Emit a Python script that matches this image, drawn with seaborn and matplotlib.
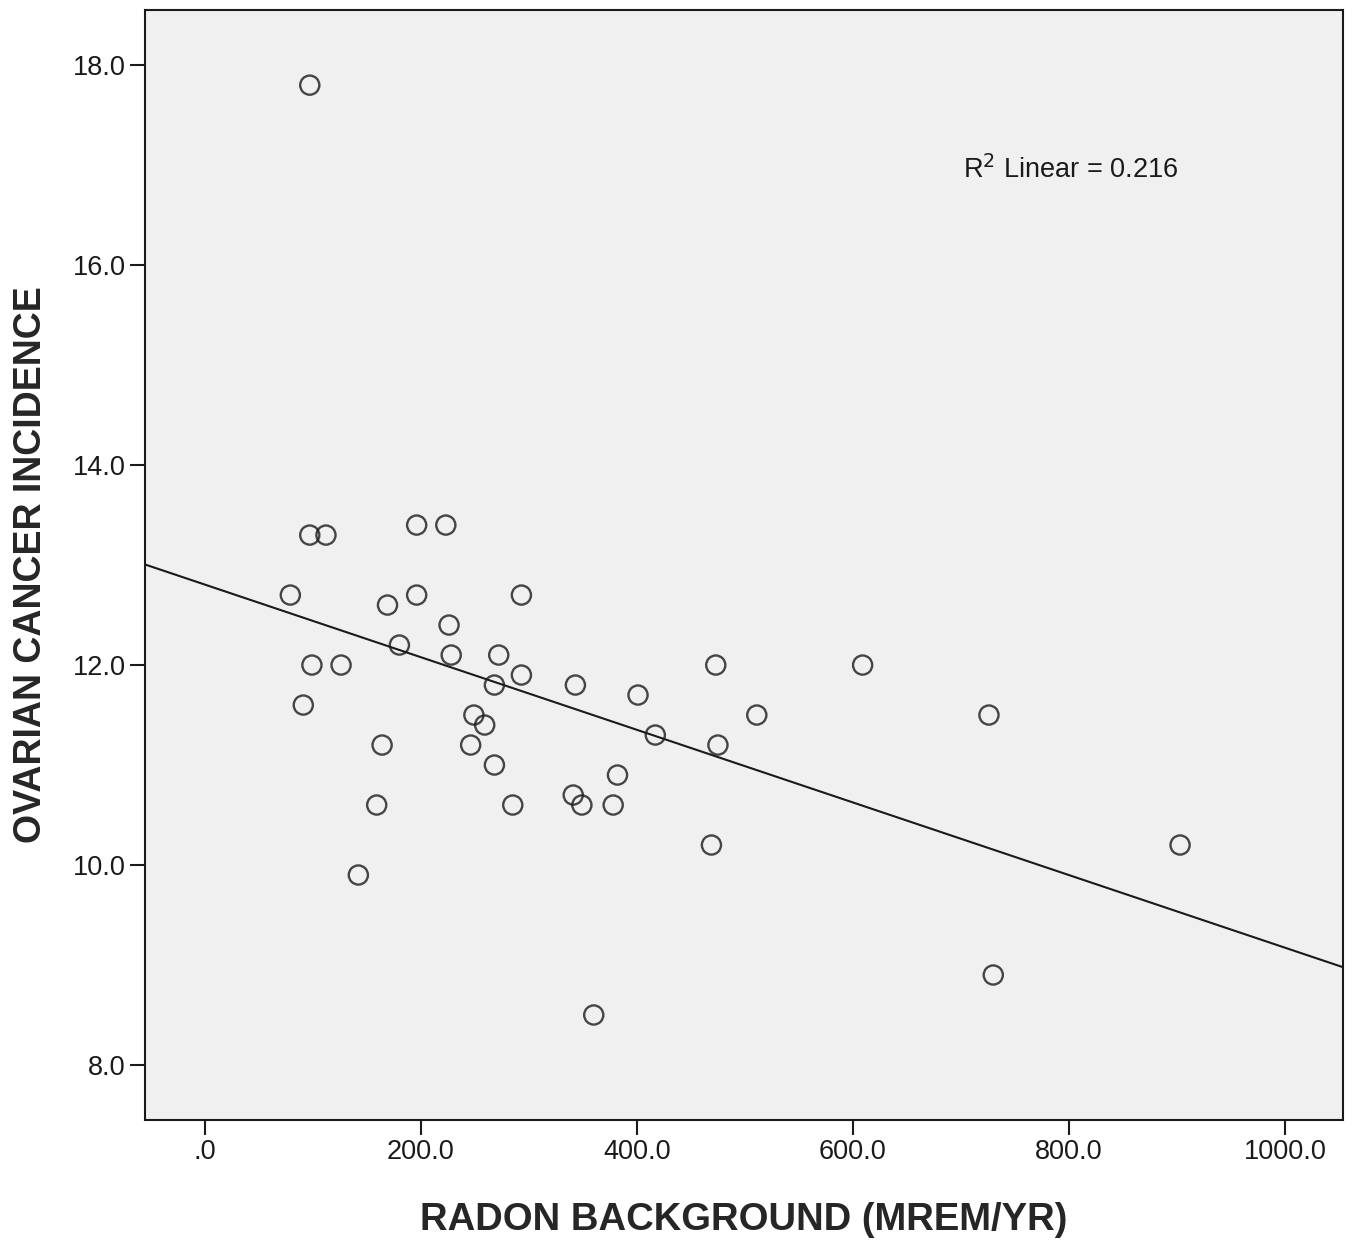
import numpy as np
import pandas as pd
import matplotlib
matplotlib.use("Agg")
import matplotlib.pyplot as plt
from matplotlib.ticker import FuncFormatter
import seaborn as sns

# values (one entry per state/point)
radon = [97, 97, 112, 196, 223, 79, 169, 196, 293, 226, 180, 228, 272, 99, 126,
         293, 268, 343, 401, 473, 609, 91, 249, 259, 417, 511, 726, 164, 246, 475,
         268, 382, 159, 285, 341, 349, 378, 469, 903, 142, 360, 730]
ovarian = [17.8, 13.3, 13.3, 13.4, 13.4, 12.7, 12.6, 12.7, 12.7, 12.4, 12.2, 12.1, 12.1, 12.0, 12.0,
           11.9, 11.8, 11.8, 11.7, 12.0, 12.0, 11.6, 11.5, 11.4, 11.3, 11.5, 11.5, 11.2, 11.2, 11.2,
           11.0, 10.9, 10.6, 10.6, 10.7, 10.6, 10.6, 10.2, 10.2, 9.9, 8.5, 8.9]
x_ticks = [0, 200, 400, 600, 800, 1000]
y_ticks = [8, 10, 12, 14, 16, 18]
r2_label = "R$^2$ Linear = 0.216"

df = pd.DataFrame({"radon": radon, "ovarian": ovarian})

sns.set_theme(style="ticks")
plt.rcParams["font.family"] = ["Liberation Sans", "DejaVu Sans"]

fig = plt.figure(figsize=(13.55, 12.4), dpi=100)
ax = fig.add_axes([0.107, 0.0968, 0.884, 0.895])
ax.set_facecolor("#f0f0f0")
ax.set_xlim(-55.6, 1053.7)
ax.set_ylim(7.45, 18.55)

# SPSS-style fit line across the whole x range
sns.regplot(data=df, x="radon", y="ovarian", ax=ax, ci=None, truncate=False,
            scatter_kws=dict(s=190, facecolors="none", edgecolors="#1a1a1a", linewidths=1.7),
            line_kws=dict(color="#1a1a1a", lw=1.5))

ax.set_xlim(-55.6, 1053.7)
ax.set_ylim(7.45, 18.55)
ax.set_xticks(x_ticks)
ax.set_yticks(y_ticks)
ax.xaxis.set_major_formatter(FuncFormatter(lambda v, p: ".0" if v == 0 else f"{v:.1f}"))
ax.yaxis.set_major_formatter(FuncFormatter(lambda v, p: f"{v:.1f}"))
ax.tick_params(axis="both", direction="out", length=11, width=1.5, labelsize=19.5,
               colors="#1a1a1a", pad=3)
for sp in ax.spines.values():
    sp.set_color("#1a1a1a")
    sp.set_linewidth(1.5)

ax.set_xlabel("RADON BACKGROUND (MREM/YR)", fontsize=27.5, fontweight="bold")
ax.set_ylabel("OVARIAN CANCER INCIDENCE", fontsize=27, fontweight="bold")
ax.xaxis.set_label_coords(0.5, -0.074)
ax.yaxis.set_label_coords(-0.080, 0.5)

ax.text(0.683, 0.856, r2_label, transform=ax.transAxes, fontsize=19.5,
        va="center", ha="left", color="#1a1a1a")

fig.savefig("out.png", dpi=100, facecolor="white")
